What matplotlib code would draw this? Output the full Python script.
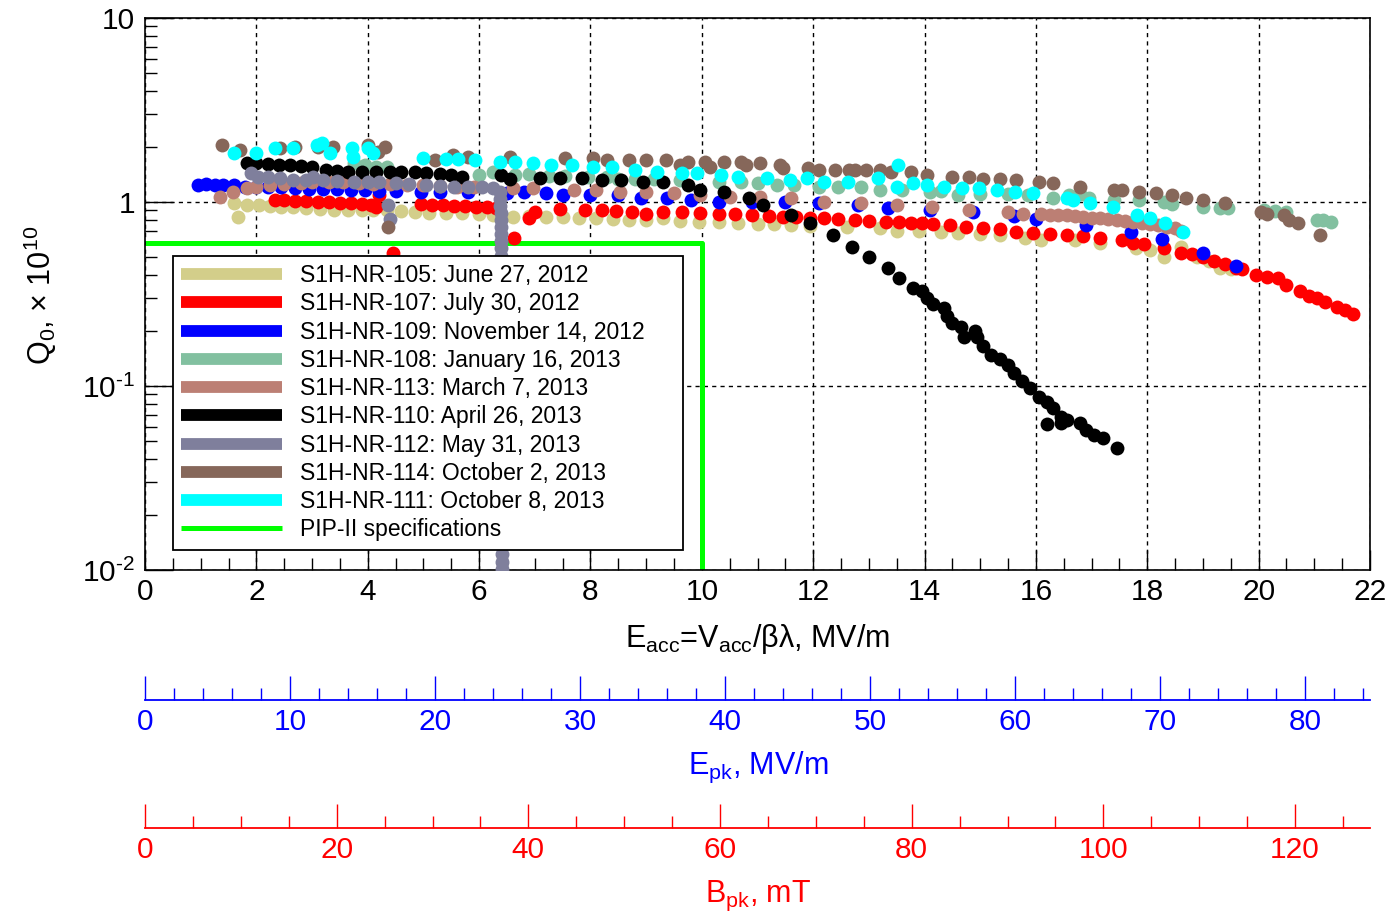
import matplotlib
matplotlib.use('Agg')
import matplotlib.pyplot as plt
from matplotlib.lines import Line2D
from matplotlib.ticker import MultipleLocator, FixedLocator, LogLocator, NullFormatter

plt.rcParams['font.family'] = ['Liberation Sans', 'DejaVu Sans']
plt.rcParams['mathtext.fontset'] = 'custom'
plt.rcParams['mathtext.rm'] = 'Liberation Sans'
plt.rcParams['mathtext.it'] = 'Liberation Sans:italic'
plt.rcParams['mathtext.default'] = 'regular'

# ---- data: E_acc (MV/m) and Q0 (x 1e10) ----
e105 = [1.60, 1.67, 1.83, 2.05, 2.25, 2.45, 2.65, 2.90, 3.15, 3.40,
        3.65, 3.90, 4.10, 4.35, 4.60, 4.85, 5.10, 5.40, 5.70, 6.00,
        6.25, 6.60, 6.90, 7.20, 7.50, 7.80, 8.10, 8.40, 8.70, 9.00,
        9.30, 9.60, 9.95, 10.30, 10.65, 11.00, 11.30, 11.60, 11.95, 12.60,
        13.20, 13.50, 13.90, 14.30, 14.60, 15.00, 15.35, 15.80, 16.10, 16.70,
        17.15, 17.80, 18.05, 18.30, 18.60, 18.90, 19.10, 19.30, 19.50]
q105 = [0.99, 0.83, 0.96, 0.96, 0.95, 0.94, 0.94, 0.93, 0.92, 0.91,
        0.90, 0.90, 0.90, 0.91, 0.89, 0.88, 0.87, 0.87, 0.87, 0.86,
        0.85, 0.83, 0.84, 0.83, 0.83, 0.82, 0.82, 0.81, 0.80, 0.80,
        0.82, 0.79, 0.78, 0.78, 0.77, 0.76, 0.76, 0.75, 0.74, 0.73,
        0.72, 0.70, 0.70, 0.69, 0.68, 0.67, 0.66, 0.64, 0.62, 0.62,
        0.60, 0.56, 0.55, 0.50, 0.57, 0.50, 0.48, 0.44, 0.43]

e107 = [2.33, 2.50, 2.70, 2.90, 3.10, 3.30, 3.50, 3.70, 3.90, 4.05,
        4.15, 4.20, 4.45, 4.95, 5.15, 5.35, 5.55, 5.75, 5.95, 6.15,
        6.30, 6.62, 6.90, 7.00, 7.45, 7.90, 8.20, 8.45, 8.75, 9.00,
        9.30, 9.65, 9.97, 10.30, 10.60, 10.90, 11.20, 11.45, 11.70, 11.95,
        12.20, 12.45, 12.75, 13.00, 13.30, 13.55, 13.75, 13.95, 14.15, 14.45,
        14.75, 15.05, 15.35, 15.65, 15.95, 16.25, 16.55, 16.85, 17.15, 17.55,
        17.75, 17.95, 18.30, 18.60, 18.80, 19.00, 19.20, 19.40, 19.60, 19.70,
        19.95, 20.15, 20.35, 20.50, 20.75, 20.90, 21.05, 21.20, 21.40, 21.55,
        21.70]
q107 = [1.02, 1.02, 1.01, 1.01, 1.00, 1.00, 0.99, 0.99, 0.98, 0.96,
        0.94, 1.09, 0.53, 0.97, 0.96, 0.96, 0.95, 0.95, 0.94, 0.94,
        0.93, 0.64, 0.82, 0.88, 0.92, 0.90, 0.90, 0.89, 0.88, 0.86,
        0.88, 0.88, 0.87, 0.86, 0.86, 0.85, 0.84, 0.83, 0.83, 0.82,
        0.82, 0.81, 0.80, 0.79, 0.78, 0.78, 0.77, 0.77, 0.76, 0.75,
        0.73, 0.72, 0.71, 0.69, 0.68, 0.67, 0.66, 0.65, 0.64, 0.62,
        0.60, 0.59, 0.56, 0.53, 0.52, 0.50, 0.48, 0.46, 0.44, 0.43,
        0.40, 0.39, 0.385, 0.355, 0.33, 0.31, 0.30, 0.285, 0.27, 0.26,
        0.245]

e109 = [0.95, 1.10, 1.25, 1.40, 1.60, 1.80, 2.00, 2.20, 2.45, 2.70,
        2.95, 3.20, 3.45, 3.70, 3.95, 4.20, 4.50, 4.95, 5.30, 5.80,
        6.50, 6.80, 7.20, 7.50, 8.00, 8.50, 8.90, 9.37, 9.80, 10.30,
        10.90, 11.50, 12.10, 12.80, 13.35, 14.10, 14.87, 15.60, 16.00, 16.90,
        17.70, 18.27, 19.00, 19.60]
q109 = [1.24, 1.25, 1.24, 1.24, 1.23, 1.21, 1.21, 1.20, 1.20, 1.19,
        1.18, 1.17, 1.17, 1.16, 1.16, 1.15, 1.15, 1.13, 1.13, 1.13,
        1.12, 1.13, 1.12, 1.09, 1.09, 1.09, 1.05, 1.05, 1.02, 1.00,
        1.00, 1.00, 0.99, 0.96, 0.93, 0.90, 0.88, 0.84, 0.81, 0.75,
        0.69, 0.63, 0.53, 0.45]

e108 = [3.75, 3.95, 4.15, 4.35, 6.00, 6.25, 6.65, 6.90, 7.25, 7.55,
        7.95, 8.30, 8.50, 8.80, 9.15, 9.60, 10.30, 10.70, 11.00, 11.35,
        11.65, 12.10, 12.45, 12.85, 13.20, 13.60, 14.10, 14.30, 14.60, 15.00,
        15.50, 15.85, 16.30, 16.60, 16.80, 16.95, 17.40, 17.85, 18.30, 18.45,
        19.00, 19.30, 19.45, 20.10, 20.30, 20.50, 21.05, 21.15, 21.30]
q108 = [1.63, 1.58, 1.55, 1.55, 1.40, 1.45, 1.40, 1.42, 1.38, 1.38,
        1.36, 1.36, 1.34, 1.34, 1.33, 1.31, 1.28, 1.29, 1.27, 1.24,
        1.24, 1.20, 1.20, 1.21, 1.16, 1.16, 1.13, 1.15, 1.09, 1.11,
        1.11, 1.09, 1.05, 1.09, 1.10, 1.05, 1.02, 1.02, 1.00, 0.97,
        0.94, 0.93, 0.93, 0.90, 0.89, 0.88, 0.80, 0.80, 0.78]

e113 = [1.35, 1.58, 1.83, 2.00, 2.25, 2.50, 2.80, 3.00, 3.30, 3.55,
        3.85, 4.10, 4.40, 4.70, 5.00, 5.30, 5.60, 5.90, 6.60, 6.97,
        7.70, 8.10, 8.53, 9.00, 9.50, 9.97, 10.50, 11.05, 11.60, 12.20,
        12.85, 13.50, 14.13, 14.80, 15.50, 15.77, 16.10, 16.25, 16.40, 16.55,
        16.70, 16.85, 17.00, 17.15, 17.30, 17.45, 17.60, 17.75, 17.90, 18.05,
        18.20, 18.35, 18.50, 18.60]
q113 = [1.06, 1.13, 1.19, 1.21, 1.23, 1.25, 1.27, 1.29, 1.29, 1.28,
        1.27, 1.26, 1.25, 1.24, 1.23, 1.22, 1.21, 1.20, 1.19, 1.19,
        1.16, 1.16, 1.13, 1.13, 1.12, 1.09, 1.07, 1.07, 1.05, 1.00,
        0.99, 0.96, 0.94, 0.90, 0.88, 0.86, 0.86, 0.855, 0.85, 0.845,
        0.84, 0.83, 0.82, 0.815, 0.81, 0.80, 0.79, 0.78, 0.77, 0.76,
        0.75, 0.73, 0.72, 0.70]

e110 = [1.83, 2.00, 2.20, 2.40, 2.60, 2.80, 3.00, 3.25, 3.45, 3.65,
        3.90, 4.15, 4.40, 4.60, 4.85, 5.05, 5.30, 5.50, 5.70, 6.40,
        6.55, 7.10, 7.45, 7.85, 8.20, 8.55, 8.95, 9.30, 9.75, 9.97,
        10.40, 10.85, 11.10, 11.60, 11.95, 12.35, 12.70, 13.00, 13.35, 13.55,
        13.80, 13.95, 14.05, 14.15, 14.35, 14.40, 14.50, 14.65, 14.70, 14.90,
        14.95, 15.05, 15.20, 15.35, 15.50, 15.60, 15.75, 15.90, 16.05, 16.20,
        16.30, 16.45, 16.20, 16.45, 16.55, 16.80, 16.90, 17.05, 17.20, 17.45]
q110 = [1.63, 1.62, 1.60, 1.59, 1.58, 1.56, 1.54, 1.50, 1.47, 1.46,
        1.46, 1.46, 1.45, 1.45, 1.45, 1.44, 1.42, 1.40, 1.37, 1.40,
        1.33, 1.35, 1.35, 1.35, 1.32, 1.32, 1.29, 1.29, 1.24, 1.16,
        1.13, 1.05, 0.96, 0.85, 0.77, 0.66, 0.57, 0.50, 0.44, 0.385,
        0.34, 0.33, 0.30, 0.28, 0.265, 0.24, 0.22, 0.21, 0.185, 0.20,
        0.185, 0.166, 0.148, 0.14, 0.13, 0.117, 0.107, 0.097, 0.087, 0.082,
        0.076, 0.068, 0.062, 0.063, 0.065, 0.063, 0.058, 0.054, 0.052, 0.046]

e112 = [1.90, 2.03, 2.20, 2.43, 2.65, 2.90, 3.02, 3.20, 3.45, 3.75,
        4.00, 4.20, 4.37, 4.40, 4.50, 4.75, 5.05, 5.30, 5.55, 5.80,
        6.05, 6.25, 6.38, 6.38, 6.38, 6.39, 6.39, 6.39, 6.40, 6.40,
        6.40, 6.40, 6.40, 6.40, 6.40, 6.40, 6.40, 6.41, 6.41, 6.41,
        6.41, 6.41, 6.41]
q112 = [1.44, 1.37, 1.37, 1.35, 1.32, 1.32, 1.37, 1.32, 1.30, 1.28,
        1.28, 1.28, 0.96, 0.81, 1.27, 1.25, 1.24, 1.22, 1.21, 1.20,
        1.20, 1.19, 1.13, 1.04, 0.95, 0.87, 0.80, 0.73, 0.67, 0.61,
        0.56, 0.51, 0.45, 0.30, 0.15, 0.07, 0.035, 0.018, 0.0135, 0.0122,
        0.011, 0.0101, 0.0093]

e114 = [1.38, 1.70, 2.42, 2.70, 3.10, 3.38, 4.00, 4.18, 4.31, 4.36,
        5.20, 5.53, 5.80, 6.55, 7.55, 8.05, 8.30, 8.70, 9.00, 9.35,
        9.60, 9.75, 10.05, 10.15, 10.40, 10.70, 10.80, 11.05, 11.40, 11.45,
        11.90, 12.10, 12.40, 12.65, 12.75, 12.95, 13.20, 13.40, 13.75, 14.05,
        14.50, 14.80, 15.05, 15.35, 15.65, 16.05, 16.30, 16.80, 17.40, 17.55,
        17.85, 18.15, 18.45, 18.70, 19.00, 19.40, 20.05, 20.15, 20.45, 20.55,
        20.70, 21.10]
q114 = [2.04, 1.92, 1.97, 1.99, 2.00, 1.99, 2.04, 1.87, 1.99, 0.73,
        1.69, 1.80, 1.76, 1.76, 1.73, 1.73, 1.69, 1.69, 1.69, 1.69,
        1.59, 1.65, 1.65, 1.55, 1.65, 1.65, 1.59, 1.63, 1.59, 1.53,
        1.53, 1.49, 1.49, 1.49, 1.49, 1.49, 1.49, 1.46, 1.46, 1.40,
        1.37, 1.37, 1.34, 1.34, 1.32, 1.29, 1.27, 1.21, 1.16, 1.16,
        1.13, 1.12, 1.09, 1.05, 1.02, 0.99, 0.88, 0.86, 0.85, 0.80,
        0.77, 0.66]

e111 = [1.60, 2.00, 2.33, 2.65, 3.09, 3.18, 3.32, 3.72, 3.74, 4.00,
        4.10, 5.00, 5.40, 5.62, 5.93, 6.38, 6.65, 6.97, 7.30, 7.67,
        8.05, 8.38, 8.80, 9.20, 9.65, 9.92, 10.35, 10.65, 11.17, 11.58,
        11.89, 12.20, 12.62, 13.16, 13.52, 13.50, 13.80, 14.05, 14.35, 14.67,
        14.98, 15.30, 15.62, 15.95, 16.55, 16.67, 16.97, 17.38, 17.82, 18.05,
        18.32, 18.65]
q111 = [1.85, 1.85, 1.97, 1.97, 2.04, 2.09, 1.85, 1.97, 1.76, 1.97,
        1.85, 1.73, 1.71, 1.71, 1.69, 1.65, 1.65, 1.63, 1.59, 1.59,
        1.55, 1.55, 1.49, 1.46, 1.43, 1.43, 1.40, 1.37, 1.35, 1.32,
        1.35, 1.29, 1.29, 1.35, 1.59, 1.21, 1.27, 1.24, 1.21, 1.19,
        1.19, 1.16, 1.13, 1.12, 1.05, 1.02, 0.99, 0.94, 0.85, 0.82,
        0.77, 0.69]

# PIP-II specification: Q0 = 6e9 up to E_acc = 10 MV/m
spec_e = [0, 10, 10]
spec_q = [0.6, 0.6, 0.005]

labels = ['S1H-NR-105: June 27, 2012', 'S1H-NR-107: July 30, 2012',
          'S1H-NR-109: November 14, 2012', 'S1H-NR-108: January 16, 2013',
          'S1H-NR-113: March 7, 2013', 'S1H-NR-110: April 26, 2013',
          'S1H-NR-112: May 31, 2013', 'S1H-NR-114: October 2, 2013',
          'S1H-NR-111: October 8, 2013']
colors = ['#d3ce8a', '#ff0000', '#0000ff', '#82c0a0', '#bc7f74',
          '#000000', '#7f7f9c', '#86675a', '#00ffff']
series = [(e105, q105), (e107, q107), (e109, q109), (e108, q108), (e113, q113),
          (e110, q110), (e112, q112), (e114, q114), (e111, q111)]

# ratios of peak fields to E_acc for the SSR1 cavity
epk_ratio = 3.84   # Epk / Eacc
bpk_ratio = 5.81   # Bpk / Eacc, mT/(MV/m)

fig = plt.figure(figsize=(13.88, 9.15), dpi=100)
L, W = 145 / 1388, 1225 / 1388
ax = fig.add_axes([L, 1 - 570 / 915, W, 552 / 915])

ax.plot(spec_e, spec_q, color='#00ff00', lw=3.6, solid_capstyle='butt', zorder=2)
for i, (e, q) in enumerate(series):
    ax.plot(e, q, 'o', ms=10, mew=0, color=colors[i], zorder=3 + i * 0.1)

ax.set_yscale('log')
ax.set_xlim(0, 22)
ax.set_ylim(0.01, 10)
ax.xaxis.set_major_locator(MultipleLocator(2))
ax.xaxis.set_minor_locator(MultipleLocator(0.5))
ax.yaxis.set_major_locator(FixedLocator([0.01, 0.1, 1, 10]))
ax.set_yticklabels(['10$^{\\text{-}2}$', '10$^{\\text{-}1}$', '1', '10'])
ax.yaxis.set_minor_locator(LogLocator(base=10, subs=range(2, 10)))
ax.yaxis.set_minor_formatter(NullFormatter())
ax.tick_params(axis='x', which='major', direction='in', length=14.4, width=1,
               labelsize=21.5, pad=6, top=False)
ax.tick_params(axis='x', which='minor', direction='in', length=8.6, width=1, top=False)
ax.tick_params(axis='y', which='major', direction='in', length=20, width=1,
               labelsize=21.5, pad=7, right=False)
ax.tick_params(axis='y', which='minor', direction='in', length=8.6, width=1, right=False)
ax.grid(True, which='major', color='black', ls=(0, (3, 3)), lw=1)
ax.set_axisbelow(True)
for s in ax.spines.values():
    s.set_linewidth(1.2)

handles = [Line2D([], [], color=c, lw=8.5, solid_capstyle='butt') for c in colors]
handles.append(Line2D([], [], color='#00ff00', lw=3.6, solid_capstyle='butt'))
leg = ax.legend(handles, labels + ['PIP-II specifications'], loc='upper left',
                bbox_to_anchor=(0.0229, 0.0399, 0.4163, 0.5289), mode='expand',
                borderaxespad=0, fontsize=16.5, handlelength=4.4, handletextpad=0.8,
                labelspacing=0.23, borderpad=0.35, fancybox=False, framealpha=1,
                edgecolor='black')
leg.get_frame().set_linewidth(1.3)
leg.set_zorder(10)

fig.text(758 / 1388, 1 - 647 / 915, 'E$_{acc}$=V$_{acc}$/βλ, MV/m', fontsize=22,
         ha='center', va='baseline')
fig.text(40 / 1388, 1 - 295 / 915, 'Q$_0$, × 10$^{10}$', fontsize=22, rotation=90,
         ha='center', va='center')

# secondary scales: peak electric and magnetic fields
for ybase, ratio, col, major, minor, title, tbase in [
        (700, epk_ratio, '#0000ff', 10, 2, 'E$_{pk}$, MV/m', 774),
        (828, bpk_ratio, '#ff0000', 20, 5, 'B$_{pk}$, mT', 902)]:
    sub = fig.add_axes([L, 1 - ybase / 915, W, 0.03])
    sub.set_facecolor('none')
    sub.set_xlim(0, 22 * ratio)
    sub.set_yticks([])
    for side in ['top', 'left', 'right']:
        sub.spines[side].set_visible(False)
    sub.spines['bottom'].set_color(col)
    sub.spines['bottom'].set_linewidth(1.3)
    sub.xaxis.set_major_locator(MultipleLocator(major))
    sub.xaxis.set_minor_locator(MultipleLocator(minor))
    sub.tick_params(axis='x', which='major', direction='in', length=17, width=1,
                    color=col, labelcolor=col, labelsize=21.5, pad=6)
    sub.tick_params(axis='x', which='minor', direction='in', length=8.6, width=1,
                    color=col)
    fig.text(758 / 1388, 1 - tbase / 915, title, fontsize=22, color=col,
             ha='center', va='baseline')

fig.savefig('out.png', dpi=100)
